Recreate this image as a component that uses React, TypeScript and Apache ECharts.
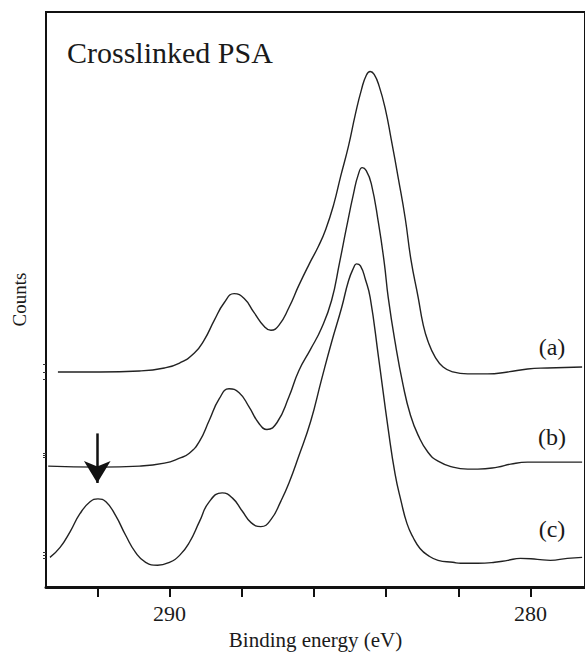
import React, { useEffect, useRef } from "react";
import * as echarts from "echarts";

// Binding energies (eV) and counts (arbitrary units, stacked with offsets) for each spectrum
const energyA = [293.09, 291.93, 290.83, 290.14, 289.72, 289.31, 289.04, 288.76, 288.48, 288.21, 287.93, 287.66, 287.38, 287.19, 286.97, 286.69, 286.42, 286.14, 285.87, 285.67, 285.45, 285.26, 285.04, 284.85, 284.68, 284.55, 284.44, 284.33, 284.19, 284.02, 283.86, 283.66, 283.47, 283.31, 283.11, 282.98, 282.84, 282.64, 282.42, 282.15, 281.74, 281.19, 280.63, 280.08, 279.53, 278.57];
const countsA = [217, 217, 218, 221, 226, 236, 249, 269, 287, 296, 291, 277, 263, 259, 264, 282, 304, 325, 344, 361, 386, 414, 445, 477, 502, 516, 520, 517, 505, 482, 452, 412, 372, 330, 292, 266, 248, 232, 222, 217, 215, 215, 217, 220, 221, 222];

const energyB = [293.36, 291.93, 290.83, 290.14, 289.72, 289.45, 289.17, 288.9, 288.62, 288.35, 288.07, 287.8, 287.52, 287.3, 287.02, 286.69, 286.42, 286.09, 285.79, 285.51, 285.29, 285.1, 284.9, 284.77, 284.66, 284.55, 284.41, 284.21, 284.05, 283.94, 283.75, 283.53, 283.33, 283.11, 282.84, 282.56, 282.15, 281.74, 281.46, 280.91, 280.55, 280.08, 278.57];
const countsB = [122, 121, 122, 125, 130, 135, 147, 168, 190, 200, 196, 182, 165, 159, 166, 192, 218, 240, 261, 289, 327, 362, 397, 416, 423, 420, 407, 367, 327, 292, 247, 204, 174, 153, 136, 127, 121, 119, 119, 121, 124, 126, 126];

const energyC = [293.31, 293.03, 292.75, 292.48, 292.2, 291.98, 291.76, 291.49, 291.21, 290.94, 290.66, 290.33, 290.0, 289.72, 289.45, 289.17, 288.9, 288.54, 288.26, 287.99, 287.74, 287.47, 287.19, 286.91, 286.69, 286.42, 286.09, 285.79, 285.51, 285.23, 285.04, 284.9, 284.82, 284.71, 284.57, 284.44, 284.21, 283.94, 283.75, 283.58, 283.42, 283.25, 283.06, 282.84, 282.56, 282.15, 281.93, 281.46, 280.99, 280.63, 280.28, 279.81, 279.45, 278.98, 278.57];
const countsC = [30, 40, 56, 74, 86, 89, 86, 72, 52, 35, 25, 22, 25, 32, 45, 66, 86, 95, 90, 77, 65, 61, 68, 87, 105, 132, 167, 209, 247, 282, 309, 322, 326, 324, 310, 292, 232, 159, 114, 86, 64, 50, 39, 32, 27, 25, 24, 24, 25, 27, 29, 28, 27, 29, 30];

// Tick positions and labelled values on the energy axis
const energyTicks = [280, 282, 284, 286, 288, 290, 292];
const energyLabels = [280, 290];

// Small hash marks on the counts axis near each spectrum's baseline
const countTicks = [210, 217, 225, 131, 133, 135, 29, 32, 35];

// Marker arrow at the 292 eV feature: energy, counts at the tail and at the tip
const arrowEnergy = 292;
const arrowFrom = 155;
const arrowTo = 105;

const seriesNames = ["(a)", "(b)", "(c)"];

const SERIF = "'Liberation Serif', 'Times New Roman', 'DejaVu Serif', serif";
const INK = "#1a1a1a";

function pairs(xs: number[], ys: number[]) {
  return xs.map((x, i) => [x, ys[i]]);
}

export default function App() {
  const ref = useRef<HTMLDivElement>(null);

  useEffect(() => {
    if (!ref.current) return;
    const chart = echarts.init(ref.current, undefined, { renderer: "svg" });
    const lineStyle = { color: "#222", width: 1.4 };
    const data = [pairs(energyA, countsA), pairs(energyB, countsB), pairs(energyC, countsC)];

    chart.setOption({
      animation: false,
      backgroundColor: "#ffffff",
      textStyle: { fontFamily: SERIF },
      grid: {
        left: 46,
        top: 12,
        right: -3,
        bottom: 63,
        show: true,
        borderColor: "#111",
        borderWidth: 2,
      },
      xAxis: {
        type: "value",
        inverse: true,
        min: 278.49,
        max: 293.42,
        axisLine: { show: true, onZero: false, lineStyle: { color: "#111", width: 3 } },
        axisTick: {
          show: true,
          inside: false,
          length: 10,
          customValues: energyTicks,
          lineStyle: { color: "#111", width: 2 },
        },
        axisLabel: {
          customValues: energyLabels,
          margin: 15,
          fontSize: 22,
          fontFamily: SERIF,
          color: INK,
        },
        splitLine: { show: false },
        name: "Binding energy (eV)",
        nameLocation: "middle",
        nameGap: 38,
        nameTextStyle: { fontSize: 21, fontFamily: SERIF, color: INK },
      },
      yAxis: {
        type: "value",
        min: 0,
        max: 580,
        axisLine: { show: true, onZero: false, lineStyle: { color: "#111", width: 2 } },
        axisTick: {
          show: true,
          inside: false,
          length: 3,
          customValues: countTicks,
          lineStyle: { color: "#333", width: 1 },
        },
        axisLabel: { show: false },
        splitLine: { show: false },
        name: "Counts",
        nameLocation: "middle",
        nameGap: 17,
        nameTextStyle: { fontSize: 19, fontFamily: SERIF, color: INK },
      },
      series: data.map((d, i) => ({
        name: seriesNames[i],
        type: "line",
        data: d,
        smooth: 0.5,
        symbol: "none",
        lineStyle,
        silent: true,
        markLine:
          i === 1
            ? {
                silent: true,
                symbol: ["none", "arrow"],
                symbolSize: [20, 22],
                label: { show: false },
                lineStyle: { type: "solid", color: "#111", width: 2.5 },
                data: [[{ coord: [arrowEnergy, arrowFrom] }, { coord: [arrowEnergy, arrowTo] }]],
              }
            : undefined,
      })),
      graphic: [
        {
          type: "text",
          x: 67,
          y: 52,
          style: {
            text: "Crosslinked PSA",
            fontSize: 30,
            fontFamily: SERIF,
            fill: INK,
            align: "left",
            verticalAlign: "middle",
          },
        },
        ...seriesNames.map((t, i) => ({
          type: "text",
          x: 552,
          y: [347, 437, 529][i],
          style: {
            text: t,
            fontSize: 24,
            fontFamily: SERIF,
            fill: INK,
            align: "center",
            verticalAlign: "middle",
          },
        })),
      ],
    });

    return () => chart.dispose();
  }, []);

  return (
    <div
      ref={ref}
      style={{ position: "fixed", left: 0, top: 0, width: 585, height: 655, background: "#fff" }}
    />
  );
}
